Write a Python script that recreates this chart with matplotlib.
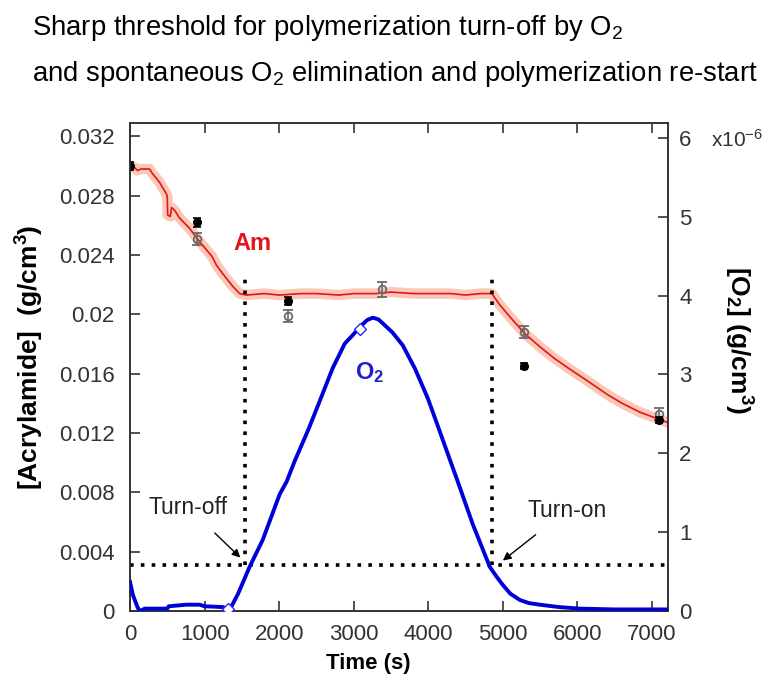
import matplotlib
matplotlib.use("Agg")
import matplotlib.pyplot as plt
import numpy as np

plt.rcParams['font.family'] = ['Liberation Sans', 'DejaVu Sans']
plt.rcParams['mathtext.fontset'] = 'custom'
plt.rcParams['mathtext.rm'] = 'Liberation Sans'
plt.rcParams['mathtext.bf'] = 'Liberation Sans:bold'
plt.rcParams['mathtext.it'] = 'Liberation Sans:italic'

# ---------------- data ----------------
# Acrylamide concentration (g/cm^3) vs time (s)
am_time = [0, 60, 100, 150, 262, 300, 396, 490, 500, 505, 540, 557, 600, 664, 798,
           933, 1000, 1100, 1161, 1250, 1376, 1470, 1560, 1800, 2000, 2300, 2500,
           2800, 3000, 3300, 3500, 3800, 4000, 4300, 4500, 4700, 4852, 4950, 5100,
           5295, 5500, 5700, 5900, 6168, 6400, 6600, 6840, 7000, 7215]
am_conc = [0.0300, 0.0299, 0.0297, 0.0298, 0.0298, 0.0295, 0.0289, 0.0281, 0.0279,
           0.0267, 0.0266, 0.0272, 0.0270, 0.0265, 0.0258,
           0.0249, 0.0245, 0.0239, 0.0233, 0.0227, 0.0219, 0.0214, 0.0213, 0.0214,
           0.0213, 0.0214, 0.0214, 0.0213, 0.0214, 0.0214, 0.0215, 0.0214, 0.0214,
           0.0214, 0.0213, 0.0214, 0.0214, 0.0207, 0.0198,
           0.0187, 0.0178, 0.0170, 0.0163, 0.0154, 0.0146, 0.0140, 0.0134, 0.0131, 0.0127]

# O2 concentration (x1e-6 g/cm^3) vs time (s)
o2_time = [0, 40, 100, 127, 200, 300, 500, 520, 755, 933, 1000, 1242, 1309, 1362, 1450,
           1604, 1779, 2007, 2100, 2208, 2400, 2543, 2718, 2879, 2987, 3081, 3180,
           3255, 3330, 3389, 3523, 3658, 3819, 3993, 4100, 4248, 4396, 4597, 4825,
           4920, 5000, 5100, 5228, 5350, 5497, 5750, 6034, 6500, 7215]
o2_conc = [0.37, 0.20, 0.05, 0.00, 0.03, 0.03, 0.03, 0.06, 0.08, 0.08, 0.06, 0.05,
           0.03, 0.06, 0.22, 0.56, 0.90, 1.48, 1.64, 1.90, 2.32, 2.66, 3.08, 3.39,
           3.50, 3.60, 3.69, 3.72, 3.70, 3.65, 3.53, 3.37, 3.08, 2.70, 2.42, 2.03,
           1.64, 1.10, 0.56, 0.43, 0.33, 0.22, 0.14, 0.10, 0.08, 0.05, 0.03, 0.02, 0.02]

# Measured acrylamide points (two methods)
pts_time_black = [0, 893, 2114, 5290, 7094]
pts_conc_black = [0.0300, 0.0262, 0.0209, 0.0165, 0.0129]
pts_err_black = [0.0003, 0.0003, 0.0003, 0.0002, 0.0002]
pts_time_grey = [893, 2114, 3376, 5290, 7094]
pts_conc_grey = [0.0251, 0.0199, 0.0217, 0.0188, 0.0133]
pts_err_grey = [0.0004, 0.0004, 0.0005, 0.0004, 0.0004]

# O2 markers (diamonds)
dia_time = [1309, 3081]
dia_conc = [0.03, 3.58]

# Threshold markers
threshold_am = 0.0031
turn_off_time = 1546
turn_on_time = 4852
vline_top = 0.0227

left_ticks = [0, 0.004, 0.008, 0.012, 0.016, 0.02, 0.024, 0.028, 0.032]
right_ticks = [0, 1, 2, 3, 4, 5, 6]
x_ticks = [0, 1000, 2000, 3000, 4000, 5000, 6000, 7000]

# ---------------- plot ----------------
fig = plt.figure(figsize=(7.71, 6.81), dpi=100)
ax = fig.add_axes([130/771, 1-611/681, (668-130)/771, (611-123)/681])
ax2 = ax.twinx()

spine_c = '#333333'
tick_fs = 16

# red band + line
ax.plot(am_time, am_conc, color='#fac8b6', lw=7.5, solid_capstyle='round', zorder=2)
ax.plot(am_time, am_conc, color='#e4141b', lw=1.2, zorder=3)

# points
ax.errorbar(pts_time_grey, pts_conc_grey, yerr=pts_err_grey, fmt='o', ms=5.5,
            mfc='none', mec='#6a6a6a', ecolor='#6a6a6a', elinewidth=1.2,
            capsize=3.5, capthick=1.2, mew=1.3, zorder=5)
ax.errorbar(pts_time_black, pts_conc_black, yerr=pts_err_black, fmt='o', ms=5.5,
            mfc='black', mec='black', ecolor='black', elinewidth=1.2,
            capsize=3, capthick=1.2, zorder=6)

# threshold dotted lines
dot_style = dict(color='black', lw=2.6, linestyle=(0, (1, 2.0)), zorder=4)
ax.plot([0, 7215], [threshold_am, threshold_am], **dot_style)
ax.plot([turn_off_time, turn_off_time], [threshold_am, vline_top], **dot_style)
ax.plot([turn_on_time, turn_on_time], [threshold_am, vline_top], **dot_style)

# O2 curve
ax2.plot(o2_time, o2_conc, color='#0000d8', lw=2.8, zorder=3)
ax2.plot(dia_time, dia_conc, linestyle='none', marker='D', ms=6.5, mfc='white',
         mec='#2a2aff', mew=1.0, zorder=4)

ax.set_xlim(0, 7215)
ax.set_ylim(0, 0.0329)
ax2.set_ylim(0, 6.19)

ax.set_xticks(x_ticks)
ax.set_xticklabels([str(v) for v in x_ticks])
ax.set_yticks(left_ticks)
ax.set_yticklabels(['%g' % v for v in left_ticks])
ax2.set_yticks(right_ticks)
ax2.set_yticklabels([str(v) for v in right_ticks])

ax.tick_params(axis='both', direction='in', length=7, width=1.2, colors=spine_c,
               labelsize=tick_fs, labelcolor='#333333', top=True, right=False, pad=9)
ax.tick_params(axis='y', pad=11)
ax2.tick_params(axis='y', direction='in', length=7, width=1.2, colors=spine_c,
                labelsize=tick_fs, labelcolor='#333333', pad=8)
ax2.tick_params(axis='x', top=False)
for a in (ax, ax2):
    for s in a.spines.values():
        s.set_color(spine_c)
        s.set_linewidth(1.2)

ax.set_xlabel('Time (s)', fontsize=16, fontweight='bold', va='center')
ax.xaxis.set_label_coords((368-130)/538, -(664-611)/488)
ax.set_ylabel(r'[Acrylamide]  (g/cm$^{\mathbf{3}}$)', fontsize=19, fontweight='bold',
              va='center')
ax.yaxis.set_label_coords((30-130)/538, (611-357)/488)
ax2.set_ylabel(r'[O$_{\mathbf{2}}$] (g/cm$^{\mathbf{3}}$)', fontsize=19,
               fontweight='bold', rotation=-90, va='center')
ax2.yaxis.set_label_coords((738-130)/538, (611-340)/488)

fig.text(711/771, 1-140/681, r'x10$^{-6}$', fontsize=15, color='#333333',
         ha='left', va='center')

# annotations
ax.text(1645, 0.0248, 'Am', color='#e4141b', fontsize=17, fontweight='bold',
        ha='center', va='center')
ax.text(3215, 0.0161, r'O$_{\mathbf{2}}$', color='#2020c8', fontsize=17,
        fontweight='bold', ha='center', va='center')

ax.annotate('Turn-off', xy=(1480, 0.0036), xytext=(777, 0.0070), fontsize=16.5,
            color='#222222', ha='center', va='center',
            arrowprops=dict(arrowstyle='-|>', color='black', lw=1.0,
                            mutation_scale=12, shrinkA=12, shrinkB=0))
ax.annotate('Turn-on', xy=(5000, 0.0034), xytext=(5858, 0.0068), fontsize=16.5,
            color='#222222', ha='center', va='center',
            arrowprops=dict(arrowstyle='-|>', color='black', lw=1.0,
                            mutation_scale=12, shrinkA=12, shrinkB=0))

# title
fig.text(32/771, 1-28/681, r'Sharp threshold for polymerization turn-off by O$_2$',
         fontsize=19.8, ha='left', va='center', color='black')
fig.text(32/771, 1-74/681, r'and spontaneous O$_2$ elimination and polymerization re-start',
         fontsize=19.8, ha='left', va='center', color='black')

fig.savefig('out.png', dpi=100)
